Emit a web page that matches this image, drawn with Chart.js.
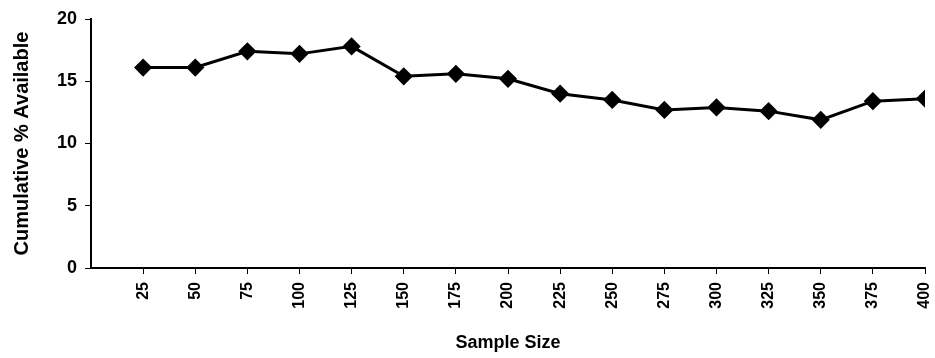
<!DOCTYPE html>
<html lang="en">
<head>
  <meta charset="UTF-8" />
  <title>cumulative % available</title>
  <script src="https://cdn.jsdelivr.net/npm/chart.js@4"></script>
  <style>
    html, body { margin: 0; padding: 0; background: #fff; }
    #wrap { width: 935px; height: 358px; }
  </style>
</head>
<body>
  <div id="wrap"><canvas id="myChart"></canvas></div>
  <script>
    // values
    const sampleSizes = [25, 50, 75, 100, 125, 150, 175, 200, 225, 250, 275, 300, 325, 350, 375, 400];
    const cumAvailable = [16.1, 16.1, 17.4, 17.2, 17.8, 15.4, 15.6, 15.2, 14.0, 13.5, 12.7, 12.9, 12.6, 11.9, 13.4, 13.6];
    const yTicks = [0, 5, 10, 15, 20];

    const points = sampleSizes.map((s, i) => ({ x: s, y: cumAvailable[i] }));
    const font = { family: "'Liberation Sans', Arial, sans-serif", weight: 'bold' };

    const ctx = document.getElementById('myChart').getContext('2d');
    const myChart = new Chart(ctx, {
      type: 'line',
      data: {
        datasets: [{
          data: points,
          borderColor: '#000',
          backgroundColor: '#000',
          borderWidth: 3,
          pointStyle: 'rectRot',
          pointRadius: 7,
          tension: 0
        }]
      },
      options: {
        responsive: true,
        maintainAspectRatio: false,
        animation: false,
        layout: { padding: { top: 19, right: 3, left: 0, bottom: 0 } },
        plugins: { legend: { display: false }, tooltip: { enabled: false } },
        scales: {
          x: {
            type: 'linear',
            min: 0,
            max: 400,
            afterBuildTicks: axis => { axis.ticks = sampleSizes.map(v => ({ value: v })); },
            afterFit: axis => { axis.height = 90; axis.paddingRight = 0; axis.paddingLeft = 0; },
            ticks: {
              color: '#000',
              font: { ...font, size: 16 },
              minRotation: 90,
              maxRotation: 90,
              padding: 8
            },
            grid: { drawOnChartArea: false, color: '#000', tickLength: 6 },
            border: { color: '#000', width: 2 },
            title: {
              display: true,
              text: 'Sample Size',
              color: '#000',
              font: { ...font, size: 18 },
              padding: { top: 10 }
            }
          },
          y: {
            min: 0,
            max: 20,
            afterBuildTicks: axis => { axis.ticks = yTicks.map(v => ({ value: v })); },
            afterFit: axis => { axis.width = 91; axis.paddingTop = 0; axis.paddingBottom = 0; },
            ticks: {
              color: '#000',
              font: { ...font, size: 18 },
              padding: 8
            },
            grid: { drawOnChartArea: false, color: '#000', tickLength: 6 },
            border: { color: '#000', width: 2 },
            title: {
              display: true,
              text: 'Cumulative % Available',
              color: '#000',
              font: { ...font, size: 20 },
              padding: { top: 10, bottom: 6 }
            }
          }
        }
      }
    });
  </script>
</body>
</html>
